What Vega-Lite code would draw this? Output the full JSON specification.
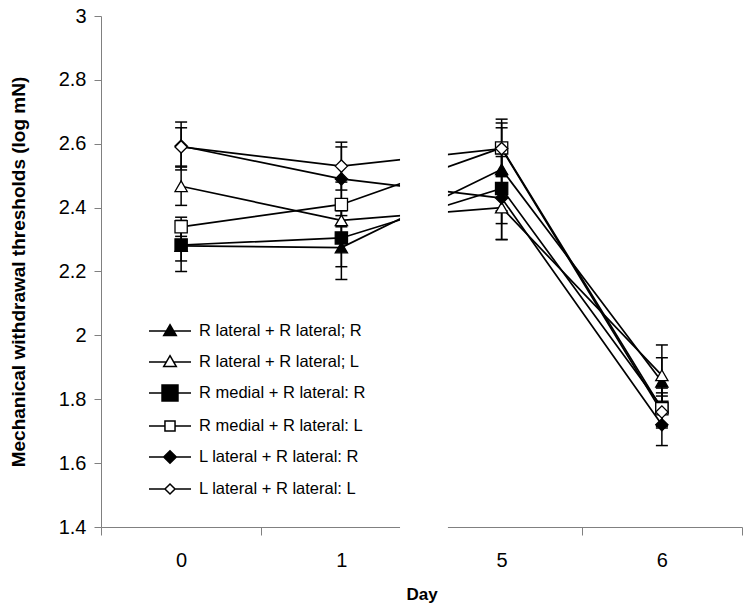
{
  "$schema": "https://vega.github.io/schema/vega-lite/v6.json",
  "width": 641,
  "height": 511,
  "autosize": {"type": "none"},
  "padding": {"left": 101, "top": 16, "right": 6, "bottom": 87},
  "background": "white",
  "config": {
    "view": {"stroke": null},
    "font": "Liberation Sans",
    "axis": {"domainColor": "#808080", "tickColor": "#808080", "labelColor": "black", "titleColor": "black", "grid": false, "labelFont": "Liberation Sans", "titleFont": "Liberation Sans"},
    "legend": {"labelFont": "Liberation Sans"}
  },
  "data": {
    "values": [
      {"series": "R lateral + R lateral; R", "day": 0, "value": 2.28, "lo": 2.2, "hi": 2.36},
      {"series": "R lateral + R lateral; R", "day": 1, "value": 2.275, "lo": 2.175, "hi": 2.375},
      {"series": "R lateral + R lateral; R", "day": 5, "value": 2.52, "lo": 2.39, "hi": 2.65},
      {"series": "R lateral + R lateral; R", "day": 6, "value": 1.855, "lo": 1.78, "hi": 1.93},
      {"series": "R lateral + R lateral; L", "day": 0, "value": 2.467, "lo": 2.407, "hi": 2.527},
      {"series": "R lateral + R lateral; L", "day": 1, "value": 2.36, "lo": 2.3, "hi": 2.42},
      {"series": "R lateral + R lateral; L", "day": 5, "value": 2.4, "lo": 2.3, "hi": 2.5},
      {"series": "R lateral + R lateral; L", "day": 6, "value": 1.875, "lo": 1.78, "hi": 1.97},
      {"series": "R medial + R lateral: R", "day": 0, "value": 2.283, "lo": 2.233, "hi": 2.333},
      {"series": "R medial + R lateral: R", "day": 1, "value": 2.305, "lo": 2.215, "hi": 2.395},
      {"series": "R medial + R lateral: R", "day": 5, "value": 2.46, "lo": 2.35, "hi": 2.57},
      {"series": "R medial + R lateral: R", "day": 6, "value": 1.775, "lo": 1.715, "hi": 1.835},
      {"series": "R medial + R lateral: L", "day": 0, "value": 2.34, "lo": 2.31, "hi": 2.37},
      {"series": "R medial + R lateral: L", "day": 1, "value": 2.41, "lo": 2.34, "hi": 2.48},
      {"series": "R medial + R lateral: L", "day": 5, "value": 2.587, "lo": 2.497, "hi": 2.677},
      {"series": "R medial + R lateral: L", "day": 6, "value": 1.77, "lo": 1.72, "hi": 1.82},
      {"series": "L lateral + R lateral: R", "day": 0, "value": 2.593, "lo": 2.518, "hi": 2.668},
      {"series": "L lateral + R lateral: R", "day": 1, "value": 2.49, "lo": 2.39, "hi": 2.59},
      {"series": "L lateral + R lateral: R", "day": 5, "value": 2.43, "lo": 2.3, "hi": 2.56},
      {"series": "L lateral + R lateral: R", "day": 6, "value": 1.72, "lo": 1.655, "hi": 1.785},
      {"series": "L lateral + R lateral: L", "day": 0, "value": 2.59, "lo": 2.53, "hi": 2.65},
      {"series": "L lateral + R lateral: L", "day": 1, "value": 2.53, "lo": 2.455, "hi": 2.605},
      {"series": "L lateral + R lateral: L", "day": 5, "value": 2.585, "lo": 2.505, "hi": 2.665},
      {"series": "L lateral + R lateral: L", "day": 6, "value": 1.76, "lo": 1.71, "hi": 1.81}
    ]
  },
  "layer": [
    {
      "mark": {"type": "line", "color": "black", "strokeWidth": 1.7},
      "encoding": {
        "x": {
          "field": "day", "type": "quantitative", "title": "Day",
          "scale": {"domain": [-0.5, 1.5, 4.5, 6.5], "range": [0, 320.5, 320.5, 641], "nice": false, "zero": false},
          "axis": {
            "values": [-0.5, 0, 0.5, 1, 1.5, 5, 5.5, 6, 6.5],
            "labelExpr": "datum.value % 1 === 0 ? toString(datum.value) : ''",
            "tickColor": {"condition": {"test": "datum.value % 1 === 0", "value": "transparent"}, "value": "#808080"},
            "tickSize": 8,
            "labelFontSize": 20,
            "labelPadding": 15,
            "labelFlush": false,
            "labelOverlap": false,
            "titleFontSize": 17,
            "titleFontWeight": "bold",
            "titlePadding": 16
          }
        },
        "y": {
          "field": "value", "type": "quantitative", "title": "Mechanical withdrawal thresholds (log mN)",
          "scale": {"domain": [1.4, 3], "nice": false, "zero": false},
          "axis": {
            "values": [1.4, 1.6, 1.8, 2, 2.2, 2.4, 2.6, 2.8, 3],
            "format": ".1~f",
            "tickSize": 7,
            "labelFontSize": 20,
            "labelPadding": 8,
            "titleFontSize": 19,
            "titleFontWeight": "bold",
            "titlePadding": 30
          }
        },
        "detail": {"field": "series", "type": "nominal"}
      }
    },
    {
      "data": {"values": [{}]},
      "mark": {"type": "rect", "fill": "white"},
      "encoding": {
        "x": {"datum": 1.366, "type": "quantitative"},
        "x2": {"datum": 4.665},
        "y": {"datum": 3, "type": "quantitative"},
        "y2": {"datum": 1.36}
      }
    },
    {
      "mark": {"type": "rule", "color": "black", "strokeWidth": 1.5},
      "encoding": {
        "x": {"field": "day", "type": "quantitative"},
        "y": {"field": "lo", "type": "quantitative"},
        "y2": {"field": "hi"}
      }
    },
    {
      "mark": {"type": "tick", "orient": "horizontal", "size": 12, "thickness": 1.5, "color": "black", "opacity": 1},
      "encoding": {
        "x": {"field": "day", "type": "quantitative"},
        "y": {"field": "lo", "type": "quantitative"}
      }
    },
    {
      "mark": {"type": "tick", "orient": "horizontal", "size": 12, "thickness": 1.5, "color": "black", "opacity": 1},
      "encoding": {
        "x": {"field": "day", "type": "quantitative"},
        "y": {"field": "hi", "type": "quantitative"}
      }
    },
    {
      "mark": {"type": "point", "filled": true, "stroke": "black", "strokeWidth": 1.3, "opacity": 1},
      "encoding": {
        "x": {"field": "day", "type": "quantitative"},
        "y": {"field": "value", "type": "quantitative"},
        "shape": {
          "field": "series", "type": "nominal", "legend": null,
          "scale": {
            "domain": ["R lateral + R lateral; R", "R lateral + R lateral; L", "R medial + R lateral: R", "R medial + R lateral: L", "L lateral + R lateral: R", "L lateral + R lateral: L"],
            "range": ["triangle-up", "triangle-up", "square", "square", "diamond", "diamond"]
          }
        },
        "fill": {
          "field": "series", "type": "nominal", "legend": null,
          "scale": {
            "domain": ["R lateral + R lateral; R", "R lateral + R lateral; L", "R medial + R lateral: R", "R medial + R lateral: L", "L lateral + R lateral: R", "L lateral + R lateral: L"],
            "range": ["black", "white", "black", "white", "black", "white"]
          }
        },
        "size": {
          "field": "series", "type": "nominal", "legend": null,
          "scale": {
            "domain": ["R lateral + R lateral; R", "R lateral + R lateral; L", "R medial + R lateral: R", "R medial + R lateral: L", "L lateral + R lateral: R", "L lateral + R lateral: L"],
            "range": [150, 150, 256, 90, 160, 100]
          }
        }
      }
    },
    {
      "transform": [{"filter": "false"}],
      "mark": {"type": "point", "filled": true, "strokeWidth": 1.5, "opacity": 1},
      "encoding": {
        "x": {"field": "day", "type": "quantitative"},
        "y": {"field": "value", "type": "quantitative"},
        "shape": {
          "field": "series", "type": "nominal",
          "scale": {
            "domain": ["R lateral + R lateral; R", "R lateral + R lateral; L", "R medial + R lateral: R", "R medial + R lateral: L", "L lateral + R lateral: R", "L lateral + R lateral: L"],
            "range": [
              "M-1,0H1M0,-0.3L0.3,0.22L-0.3,0.22Z",
              "M-1,0H-0.17M0.17,0H1M0,-0.3L0.3,0.22L-0.3,0.22Z",
              "M-1,0H1M-0.38,-0.38H0.38V0.38H-0.38Z",
              "M-1,0H-0.24M0.24,0H1M-0.24,-0.24H0.24V0.24H-0.24Z",
              "M-1,0H1M0,-0.3L0.3,0L0,0.3L-0.3,0Z",
              "M-1,0H-0.24M0.24,0H1M0,-0.24L0.24,0L0,0.24L-0.24,0Z"
            ]
          },
          "legend": {"title": null, "orient": "none", "legendX": 47, "legendY": 293, "symbolSize": 1764, "symbolStrokeWidth": 1.5, "labelFontSize": 16.5, "labelOffset": 7, "labelLimit": 400, "rowPadding": -1.3, "padding": 0, "labelColor": "black"}
        },
        "fill": {
          "field": "series", "type": "nominal",
          "scale": {
            "domain": ["R lateral + R lateral; R", "R lateral + R lateral; L", "R medial + R lateral: R", "R medial + R lateral: L", "L lateral + R lateral: R", "L lateral + R lateral: L"],
            "range": ["black", "white", "black", "white", "black", "white"]
          },
          "legend": {"title": null, "orient": "none", "legendX": 47, "legendY": 293, "symbolSize": 1764, "symbolStrokeWidth": 1.5, "labelFontSize": 16.5, "labelOffset": 7, "labelLimit": 400, "rowPadding": -1.3, "padding": 0, "labelColor": "black"}
        },
        "stroke": {
          "field": "series", "type": "nominal",
          "scale": {
            "domain": ["R lateral + R lateral; R", "R lateral + R lateral; L", "R medial + R lateral: R", "R medial + R lateral: L", "L lateral + R lateral: R", "L lateral + R lateral: L"],
            "range": ["black", "black", "black", "black", "black", "black"]
          },
          "legend": {"title": null, "orient": "none", "legendX": 47, "legendY": 293, "symbolSize": 1764, "symbolStrokeWidth": 1.5, "labelFontSize": 16.5, "labelOffset": 7, "labelLimit": 400, "rowPadding": -1.3, "padding": 0, "labelColor": "black"}
        }
      }
    }
  ],
  "resolve": {"scale": {"shape": "independent", "fill": "independent", "size": "independent", "stroke": "independent"}}
}
